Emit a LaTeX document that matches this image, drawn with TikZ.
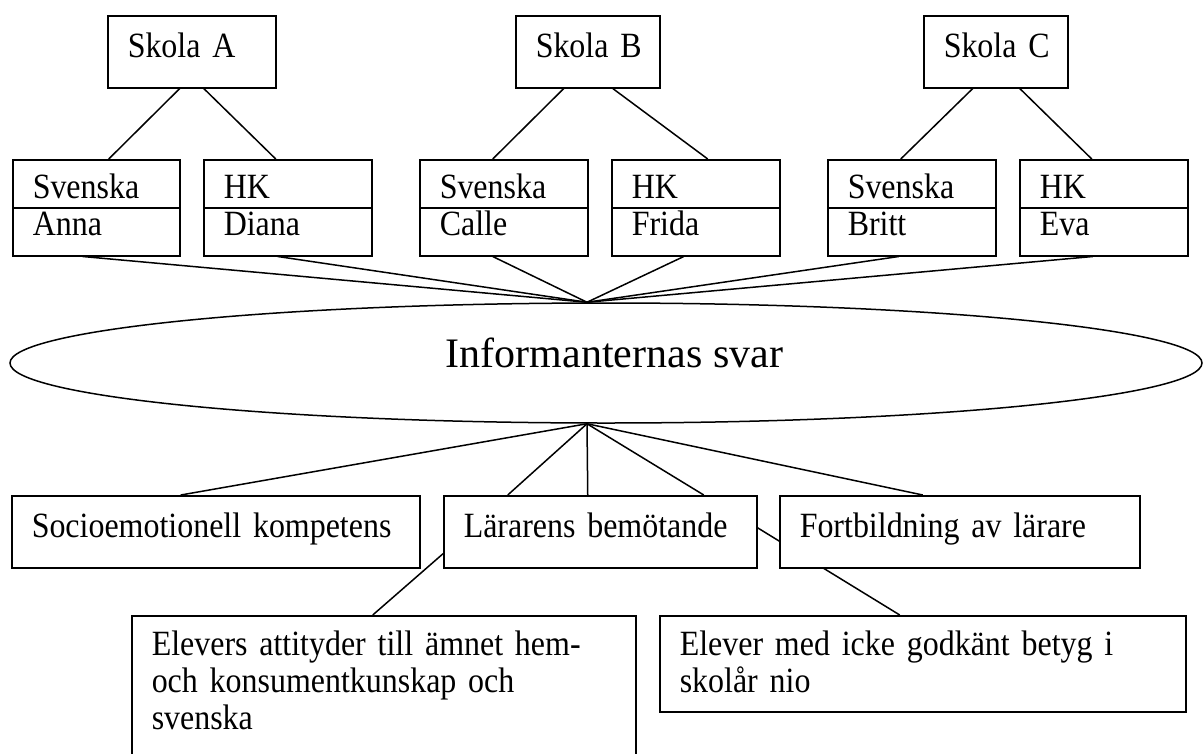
\documentclass[tikz,border=0pt]{standalone}
\usepackage{fontspec}
\setmainfont{Liberation Serif}
\newfontfamily\boxfont[FakeStretch=0.9,WordSpace=0.85]{Liberation Serif}
\usetikzlibrary{shapes.geometric,calc,backgrounds}
\begin{document}
\begin{tikzpicture}[x=1pt,y=-1pt,
  box/.style={draw, line width=1.5pt, fill=white, rectangle, anchor=north west,
    inner xsep=20pt, inner ysep=0pt, align=left,
    font=\boxfont\fontsize{35.5}{37}\selectfont},
  one/.style={text height=42pt, text depth=30pt},
  two/.style={text height=39pt, text depth=57pt},
  conn/.style={line width=1.5pt}]
\path[use as bounding box, clip] (0,0) rectangle (1203,753);

% schools
\node[box, one, text width=128pt] (skA) at (107,15) {\mbox{Skola A}};
\node[box, one, text width=104pt] (skB) at (515,15) {\mbox{Skola B}};
\node[box, one, text width=104pt] (skC) at (923,15) {\mbox{Skola C}};

% teachers
\node[box, two, text width=127pt] (anna)  at (12,159)  {Svenska\\Anna};
\node[box, two, text width=128pt] (diana) at (203,159) {HK\\Diana};
\node[box, two, text width=128pt] (calle) at (419,159) {Svenska\\Calle};
\node[box, two, text width=128pt] (frida) at (611,159) {HK\\Frida};
\node[box, two, text width=128pt] (britt) at (827,159) {Svenska\\Britt};
\node[box, two, text width=128pt] (eva)   at (1019,159) {HK\\Eva};
\foreach \n in {anna,diana,calle,frida,britt,eva}
  \draw[conn] (\n.west) -- (\n.east);

% central ellipse
\node[ellipse, draw, line width=1.5pt, fill=white, minimum width=1192pt,
  minimum height=120pt, inner sep=0pt, font=\fontsize{42}{48}\selectfont,
  text height=20pt, text depth=12pt] (inf) at (606,363) {\hspace*{17pt}Informanternas svar};
\coordinate (etop) at ($(inf.north)+(-19,0)$);
\coordinate (ebot) at ($(inf.south)+(-19,0)$);

% themes
\node[box, one, text width=368pt] (socio) at (11,495) {\mbox{Socioemotionell kompetens}};
\node[box, one, text width=273pt] (lar) at (443,495) {\mbox{Lärarens bemötande}};
\node[box, one, text width=320pt] (fort) at (779,495) {\mbox{Fortbildning av lärare}};

\node[box, text width=464pt, text height=40pt, text depth=200pt] (elev1) at (131,615)
  {\mbox{Elevers attityder till ämnet hem-}\\\mbox{och konsumentkunskap och}\\svenska};
\node[box, text width=486pt, text height=40pt, text depth=56pt] (elev2) at (659,615)
  {\mbox{Elever med icke godkänt betyg i}\\\mbox{skolår nio}};

\begin{scope}[on background layer]
  \draw[conn] ($(skA.south)+(-12,0)$) -- ($(anna.north)+(12.5,0)$);
  \draw[conn] ($(skA.south)+(12,0)$) -- ($(diana.north)+(-12,0)$);
  \draw[conn] ($(skB.south)+(-24,0)$) -- ($(calle.north)+(-11,0)$);
  \draw[conn] ($(skB.south)+(25,0)$) -- ($(frida.north)+(12,0)$);
  \draw[conn] ($(skC.south)+(-23,0)$) -- ($(britt.north)+(-11,0)$);
  \draw[conn] ($(skC.south)+(24,0)$) -- ($(eva.north)+(-12,0)$);

  \draw[conn] ($(anna.south)+(-13.5,0)$) -- (etop);
  \draw[conn] ($(diana.south)+(-10,0)$) -- (etop);
  \draw[conn] ($(calle.south)+(-11,0)$) -- (etop);
  \draw[conn] ($(frida.south)+(-12,0)$) -- (etop);
  \draw[conn] ($(britt.south)+(-13,0)$) -- (etop);
  \draw[conn] ($(eva.south)+(-11,0)$) -- (etop);

  \draw[conn] (ebot) -- ($(socio.north)+(-35,0)$);
  \draw[conn] (ebot) -- ($(lar.north)+(-92.5,0)$);
  \draw[conn] (ebot) -- ($(lar.north)+(-12.5,0)$);
  \draw[conn] (ebot) -- ($(lar.north)+(103.5,0)$);
  \draw[conn] (ebot) -- ($(fort.north)+(-37,0)$);

  \draw[conn] ($(lar.west)+(0,22)$) -- ($(elev1.north)+(-11,0)$);
  \draw[conn] ($(lar.east)+(0,-4)$) -- ($(elev2.north)+(-23,0)$);
\end{scope}
\end{tikzpicture}
\end{document}
